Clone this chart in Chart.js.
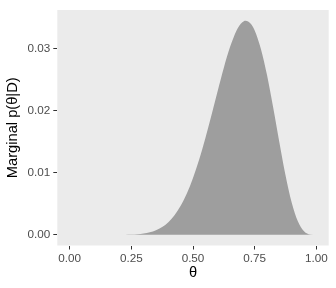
<!DOCTYPE html>
<html>
<head>
<meta charset="utf-8">
<script src="https://cdn.jsdelivr.net/npm/chart.js@4"></script>
<style>
  html, body { margin: 0; padding: 0; background: #ffffff; }
  #wrap { width: 336px; height: 288px; }
</style>
</head>
<body>
<div id="wrap"><canvas id="c" width="336" height="288"></canvas></div>
<script>
const thetaValues = [0, 0.025, 0.05, 0.075, 0.1, 0.125, 0.15, 0.175, 0.2, 0.225,
  0.25, 0.275, 0.3, 0.325, 0.35, 0.375, 0.4, 0.425, 0.45, 0.475,
  0.5, 0.525, 0.55, 0.575, 0.6, 0.625, 0.65, 0.675, 0.6875, 0.7, 0.7125, 0.725, 0.7375,
  0.75, 0.775, 0.8, 0.825, 0.85, 0.875, 0.9, 0.925, 0.95, 0.975, 1];
const marginalValues = [0, 0, 0, 0, 0, 0, 0, 0.000002, 0.000006, 0.000018,
  0.000045, 0.000102, 0.000212, 0.000409, 0.000738, 0.00126, 0.00204, 0.00315, 0.00467, 0.00666,
  0.00916, 0.01214, 0.01559, 0.01933, 0.02322, 0.02698, 0.03029, 0.03287, 0.03374, 0.03430, 0.03455, 0.03440, 0.03389,
  0.03298, 0.03004, 0.02577, 0.02054, 0.01495, 0.00963, 0.00523, 0.00218, 0.00056, 0.000045, 0];
const xTicks = [0, 0.25, 0.5, 0.75, 1];
const xTickLabels = ['0.00', '0.25', '0.50', '0.75', '1.00'];
const yTicks = [0, 0.01, 0.02, 0.03];
const yTickLabels = ['0.00', '0.01', '0.02', '0.03'];
const xTitle = 'θ';
const yTitle = 'Marginal p(θ|D)';

const points = thetaValues.map((t, i) => ({ x: t, y: marginalValues[i] }));
const yMaxData = Math.max(...marginalValues);

const panelBg = {
  id: 'panelBg',
  beforeDraw(chart) {
    const { ctx, chartArea: a } = chart;
    ctx.save();
    ctx.fillStyle = '#EBEBEB';
    ctx.fillRect(a.left, a.top, a.right - a.left, a.bottom - a.top);
    ctx.restore();
  }
};

const FONT = 'Liberation Sans, Arial, Helvetica, sans-serif';

new Chart(document.getElementById('c'), {
  type: 'line',
  data: {
    datasets: [{
      data: points,
      parsing: false,
      fill: 'origin',
      backgroundColor: '#9E9E9E',
      borderWidth: 0,
      borderColor: 'rgba(0,0,0,0)',
      pointRadius: 0,
      cubicInterpolationMode: 'monotone'
    }]
  },
  options: {
    responsive: false,
    animation: false,
    events: [],
    layout: { padding: { top: 7.3, right: 7.3, left: 0, bottom: 0 } },
    plugins: { legend: { display: false }, tooltip: { enabled: false } },
    scales: {
      x: {
        type: 'linear',
        min: -0.05,
        max: 1.05,
        afterFit(s) { s.height = 42.5; },
        afterBuildTicks(s) { s.ticks = xTicks.map(v => ({ value: v })); },
        grid: { display: true, drawOnChartArea: false, drawTicks: true, tickLength: 4, color: '#333333', lineWidth: 1 },
        border: { display: false },
        ticks: {
          padding: 2,
          color: '#4D4D4D',
          font: { family: FONT, size: 11.7 },
          maxRotation: 0,
          autoSkip: false,
          callback: (v, i) => xTickLabels[i]
        },
        title: {
          display: true,
          text: xTitle,
          color: '#000000',
          font: { family: FONT, size: 14.67 },
          padding: { top: 0, bottom: 6 }
        }
      },
      y: {
        type: 'linear',
        min: -0.05 * yMaxData,
        max: 1.05 * yMaxData,
        afterFit(s) { s.width = 57.3; },
        afterBuildTicks(s) { s.ticks = yTicks.map(v => ({ value: v })); },
        grid: { display: true, drawOnChartArea: false, drawTicks: true, tickLength: 4, color: '#333333', lineWidth: 1 },
        border: { display: false },
        ticks: {
          padding: 3,
          color: '#4D4D4D',
          font: { family: FONT, size: 11.7 },
          autoSkip: false,
          callback: (v, i) => yTickLabels[i]
        },
        title: {
          display: true,
          text: yTitle,
          color: '#000000',
          font: { family: FONT, size: 14.67 },
          padding: { top: 4, bottom: 0 }
        }
      }
    }
  },
  plugins: [panelBg]
});
</script>
</body>
</html>
